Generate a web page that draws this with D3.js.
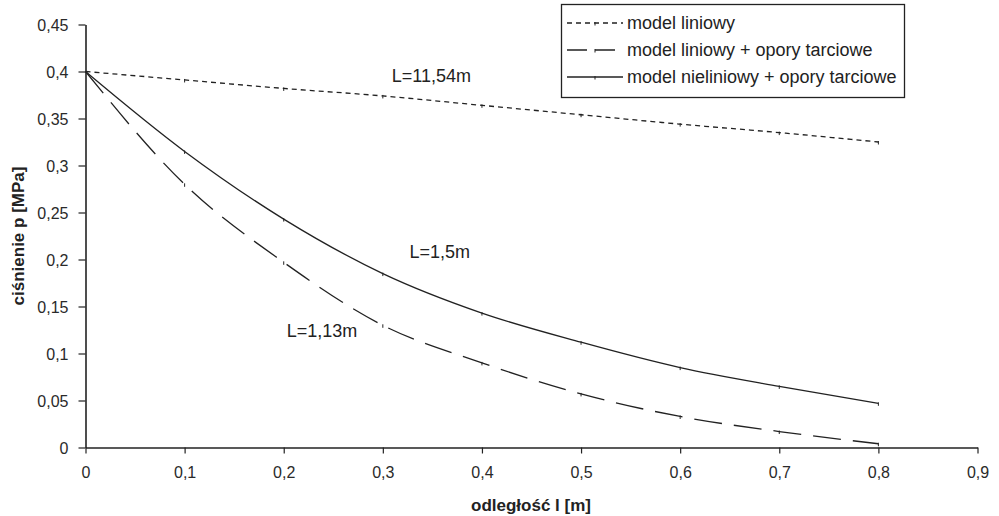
<!DOCTYPE html>
<html>
<head>
<meta charset="utf-8">
<script src="https://cdn.jsdelivr.net/npm/d3@7"></script>
<style>
  body { margin: 0; background: #fff; }
  svg { font-family: "Liberation Sans", Arial, sans-serif; }
</style>
</head>
<body>
<div id="canvas"></div>
<script>
// data
var xValues = [0, 0.1, 0.2, 0.3, 0.4, 0.5, 0.6, 0.7, 0.8];
var linear = [0.4, 0.391, 0.382, 0.374, 0.364, 0.354, 0.344, 0.335, 0.325];
var linearFriction = [0.4, 0.28, 0.197, 0.13, 0.09, 0.057, 0.033, 0.017, 0.004];
var nonlinearFriction = [0.4, 0.315, 0.243, 0.185, 0.143, 0.112, 0.085, 0.065, 0.047];
var seriesNames = ["model liniowy", "model liniowy + opory tarciowe", "model nieliniowy + opory tarciowe"];
var xTicks = [0, 0.1, 0.2, 0.3, 0.4, 0.5, 0.6, 0.7, 0.8, 0.9];
var yTicks = [0, 0.05, 0.1, 0.15, 0.2, 0.25, 0.3, 0.35, 0.4, 0.45];
var notes = [
    { text: "L=11,54m", x: 0.309, y: 0.389 },
    { text: "L=1,5m", x: 0.327, y: 0.202 },
    { text: "L=1,13m", x: 0.203, y: 0.118 }
];

var width = 999,
    height = 516;

var x = d3.scaleLinear().domain([0, 0.9]).range([85.5, 977.5]);
var y = d3.scaleLinear().domain([0, 0.45]).range([447.5, 24.5]);

var fmt = function(d) { return String(d).replace(".", ","); };

var svg = d3.select("#canvas")
    .append("svg")
    .attr("width", width)
    .attr("height", height);

// axes
var xAxis = svg.append("g")
    .attr("transform", "translate(0,447.5)")
    .call(d3.axisBottom(x).tickValues(xTicks).tickFormat(fmt).tickSize(6).tickSizeOuter(0).tickPadding(13));
var yAxis = svg.append("g")
    .attr("transform", "translate(85.5,0)")
    .call(d3.axisLeft(y).tickValues(yTicks).tickFormat(fmt).tickSize(7).tickSizeOuter(0).tickPadding(10));

[xAxis, yAxis].forEach(function(g) {
    g.select(".domain").attr("stroke", "#222").attr("stroke-width", 1.6);
    g.selectAll(".tick line").attr("stroke", "#222").attr("stroke-width", 1.2);
    g.selectAll(".tick text")
        .attr("fill", "#2a2a2a")
        .style("font-size", "16px")
        .style("font-family", "Liberation Sans, Arial, sans-serif");
});
yAxis.selectAll(".tick text").attr("dy", "0.35em");

// axis titles
svg.append("text")
    .attr("x", 531)
    .attr("y", 511)
    .attr("text-anchor", "middle")
    .style("font-size", "17px")
    .style("font-weight", "bold")
    .attr("fill", "#222")
    .text("odległość l [m]");

svg.append("text")
    .attr("transform", "translate(24,236) rotate(-90)")
    .attr("text-anchor", "middle")
    .style("font-size", "17px")
    .style("font-weight", "bold")
    .attr("fill", "#222")
    .text("ciśnienie p [MPa]");

// series
var series = [
    { values: linear, dash: "5,4" },
    { values: linearFriction, dash: "28,12" },
    { values: nonlinearFriction, dash: null }
];

var line = d3.line()
    .curve(d3.curveMonotoneX)
    .x(function(d) { return x(d[0]); })
    .y(function(d) { return y(d[1]); });

series.forEach(function(s) {
    var pts = xValues.map(function(v, i) { return [v, s.values[i]]; });
    svg.append("path")
        .datum(pts)
        .attr("d", line)
        .attr("fill", "none")
        .attr("stroke", "#222")
        .attr("stroke-width", 1.3)
        .attr("stroke-dasharray", s.dash);
    // small tick markers at data points
    svg.append("g")
        .selectAll("line")
        .data(pts.slice(1))
        .enter()
        .append("line")
        .attr("x1", function(d) { return x(d[0]); })
        .attr("x2", function(d) { return x(d[0]); })
        .attr("y1", function(d) { return y(d[1]) - 1; })
        .attr("y2", function(d) { return y(d[1]) + 2.5; })
        .attr("stroke", "#222")
        .attr("stroke-width", 1);
});

// annotations
svg.selectAll(".note")
    .data(notes)
    .enter()
    .append("text")
    .attr("class", "note")
    .attr("x", function(d) { return x(d.x); })
    .attr("y", function(d) { return y(d.y); })
    .style("font-size", "18px")
    .attr("fill", "#222")
    .text(function(d) { return d.text; });

// legend
var legend = svg.append("g");
legend.append("rect")
    .attr("x", 561.5)
    .attr("y", 4.5)
    .attr("width", 343)
    .attr("height", 93)
    .attr("fill", "#fff")
    .attr("stroke", "#222")
    .attr("stroke-width", 1.3);

var rows = legend.selectAll(".row")
    .data(seriesNames)
    .enter()
    .append("g")
    .attr("transform", function(d, i) { return "translate(0," + (23 + i * 27) + ")"; });

rows.append("line")
    .attr("x1", 567)
    .attr("x2", 623)
    .attr("y1", 0)
    .attr("y2", 0)
    .attr("stroke", "#222")
    .attr("stroke-width", 1.3)
    .attr("stroke-dasharray", function(d, i) { return i === 0 ? "5,4" : (i === 1 ? "20,8" : null); });

rows.append("line")
    .attr("x1", 595)
    .attr("x2", 595)
    .attr("y1", -1)
    .attr("y2", 2.5)
    .attr("stroke", "#222")
    .attr("stroke-width", 1);

rows.append("text")
    .attr("x", 627)
    .attr("y", 0)
    .attr("dy", "0.35em")
    .style("font-size", "18px")
    .attr("fill", "#222")
    .text(function(d) { return d; });
</script>
</body>
</html>
